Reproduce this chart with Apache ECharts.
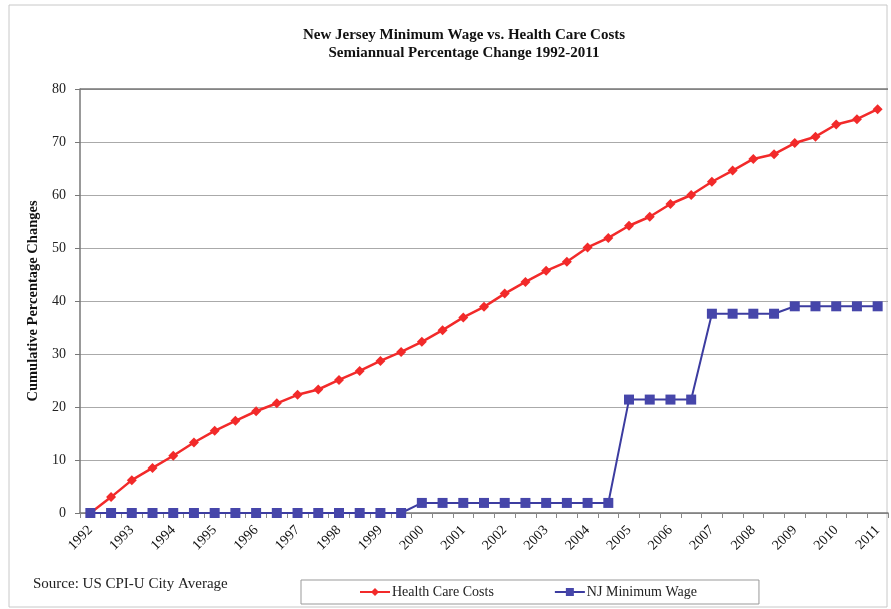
<!DOCTYPE html>
<html><head><meta charset="utf-8">
<script src="https://cdn.jsdelivr.net/npm/echarts@6/dist/echarts.min.js"></script>
<style>html,body{margin:0;padding:0;background:#fff}#c{width:891px;height:609px}</style>
</head><body><div id="c"></div>
<script>
var periods = [];
var years = ['1992','1993','1994','1995','1996','1997','1998','1999','2000','2001','2002','2003','2004','2005','2006','2007','2008','2009','2010','2011'];
years.forEach(function(y, i){ periods.push(y); if (i < years.length - 1) periods.push(y + '.5'); });
var healthCare = [0,3.0,6.2,8.5,10.8,13.3,15.5,17.4,19.2,20.7,22.3,23.3,25.1,26.8,28.7,30.4,32.3,34.5,36.9,38.9,41.4,43.6,45.7,47.4,50.1,51.9,54.2,55.9,58.3,60.0,62.5,64.6,66.8,67.7,69.8,71.0,73.3,74.3,76.2];
var minWage = [0,0,0,0,0,0,0,0,0,0,0,0,0,0,0,0,1.9,1.9,1.9,1.9,1.9,1.9,1.9,1.9,1.9,1.9,21.4,21.4,21.4,21.4,37.6,37.6,37.6,37.6,39.0,39.0,39.0,39.0,39.0];

var serif = '"Liberation Serif","Times New Roman",serif';
var chart = echarts.init(document.getElementById('c'));
chart.setOption({
  backgroundColor: '#fff',
  animation: false,
  title: {
    text: 'New Jersey Minimum Wage vs. Health Care Costs\nSemiannual Percentage Change 1992-2011',
    left: 459, textAlign: 'center', top: 21,
    textStyle: {fontFamily: serif, fontSize: 15, fontWeight: 'bold', color: '#111', lineHeight: 18}
  },
  graphic: [
    {type: 'rect', shape: {x: 9, y: 5, width: 878, height: 602}, style: {fill: 'none', stroke: '#c8c8c8', lineWidth: 1}, silent: true},
    {type: 'text', left: 33, top: 577, style: {text: 'Source: US CPI-U City Average', font: '15px ' + serif, fill: '#222'}}
  ],
  legend: {
    left: 301, top: 580,
    padding: [5, 62, 5, 58],
    itemGap: 60, itemWidth: 30, itemHeight: 10,
    borderColor: '#999', borderWidth: 1,
    textStyle: {fontFamily: serif, fontSize: 14, color: '#222', padding: [0, 0, 0, -3]},
    data: ['Health Care Costs', 'NJ Minimum Wage']
  },
  grid: {left: 80, right: 3, top: 89, bottom: 96},
  xAxis: {
    type: 'category', data: periods, boundaryGap: true,
    axisLine: {lineStyle: {color: '#777', width: 1.5}},
    axisTick: {show: true, interval: 0, length: 5, lineStyle: {color: '#888'}},
    axisLabel: {
      interval: 0, rotate: 45, fontFamily: serif, fontSize: 14, color: '#111', margin: 15,
      formatter: function(v){ return v.indexOf('.5') >= 0 ? '' : v; }
    }
  },
  yAxis: {
    type: 'value', min: 0, max: 80, interval: 10,
    name: 'Cumulative Percentage Changes', nameLocation: 'middle', nameGap: 35,
    nameTextStyle: {fontFamily: serif, fontSize: 14.5, fontWeight: 'bold', color: '#111'},
    axisLine: {show: true, lineStyle: {color: '#777', width: 1.5}},
    axisTick: {show: true, length: 5, lineStyle: {color: '#777'}},
    axisLabel: {fontFamily: serif, fontSize: 14, color: '#222', margin: 14},
    splitLine: {lineStyle: {color: '#aaa', width: 1}}
  },
  series: [
    {
      name: 'Health Care Costs', type: 'line', data: healthCare,
      symbol: 'diamond', symbolSize: 10,
      lineStyle: {color: '#f22a2a', width: 2.5},
      itemStyle: {color: '#f22a2a'}, z: 3
    },
    {
      name: 'NJ Minimum Wage', type: 'line', data: minWage,
      symbol: 'rect', symbolSize: 10,
      lineStyle: {color: '#3c3ca0', width: 2},
      itemStyle: {color: '#4646aa'}, z: 4
    },
    {
      type: 'line', data: [], markLine: {silent: true, symbol: 'none', label: {show: false},
        lineStyle: {color: '#777', type: 'solid', width: 1.5}, data: [{yAxis: 80}]}
    }
  ]
});
</script></body></html>
